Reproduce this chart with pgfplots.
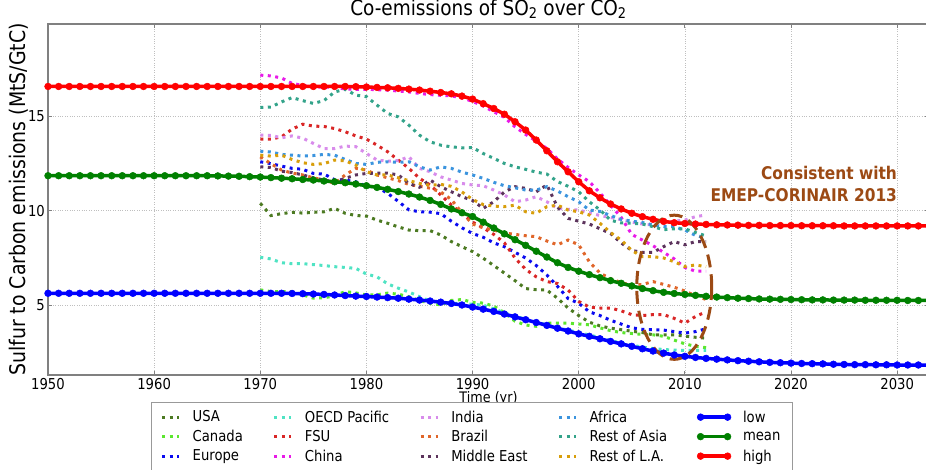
\documentclass[border=0pt]{standalone}
\usepackage{fontspec}
\setmainfont{DejaVu Sans}[FakeStretch=0.88]
\usepackage{pgfplots}
\usepackage{pgfplotstable}
\pgfplotsset{compat=1.18}

\definecolor{cUSA}{HTML}{4C7A22}
\definecolor{cCAN}{HTML}{5CE62E}
\definecolor{cEUR}{HTML}{0A0AF0}
\definecolor{cOECD}{HTML}{4FE3C3}
\definecolor{cFSU}{HTML}{D92626}
\definecolor{cCHN}{HTML}{E81AE8}
\definecolor{cIND}{HTML}{D88CEB}
\definecolor{cBRA}{HTML}{E0662A}
\definecolor{cMDE}{HTML}{5C335C}
\definecolor{cAFR}{HTML}{3B94DE}
\definecolor{cRAS}{HTML}{33A38A}
\definecolor{cRLA}{HTML}{D89E0B}
\definecolor{cLow}{HTML}{0000FF}
\definecolor{cMean}{HTML}{008000}
\definecolor{cHigh}{HTML}{FF0000}
\definecolor{annot}{HTML}{9C4A14}

% envelope curves, one point a year
\pgfplotstableread{
year low mean high
1950 5.63 11.86 16.59
1951 5.63 11.86 16.59
1952 5.63 11.86 16.59
1953 5.63 11.86 16.59
1954 5.63 11.86 16.59
1955 5.63 11.86 16.59
1956 5.63 11.86 16.59
1957 5.63 11.86 16.59
1958 5.63 11.86 16.59
1959 5.63 11.86 16.59
1960 5.63 11.86 16.59
1961 5.63 11.86 16.59
1962 5.63 11.86 16.59
1963 5.63 11.86 16.59
1964 5.63 11.86 16.59
1965 5.63 11.86 16.59
1966 5.63 11.85 16.59
1967 5.63 11.84 16.59
1968 5.63 11.83 16.59
1969 5.63 11.81 16.59
1970 5.63 11.79 16.59
1971 5.63 11.76 16.59
1972 5.63 11.73 16.59
1973 5.62 11.70 16.59
1974 5.61 11.66 16.59
1975 5.59 11.63 16.59
1976 5.57 11.58 16.59
1977 5.54 11.54 16.59
1978 5.51 11.49 16.59
1979 5.48 11.42 16.58
1980 5.46 11.33 16.56
1981 5.43 11.24 16.54
1982 5.40 11.14 16.52
1983 5.37 11.02 16.49
1984 5.32 10.89 16.45
1985 5.27 10.73 16.40
1986 5.22 10.55 16.34
1987 5.16 10.34 16.27
1988 5.09 10.10 16.20
1989 5.01 9.90 16.08
1990 4.90 9.70 15.92
1991 4.79 9.40 15.68
1992 4.67 9.09 15.42
1993 4.53 8.78 15.12
1994 4.38 8.47 14.72
1995 4.23 8.17 14.28
1996 4.08 7.86 13.75
1997 3.93 7.55 13.18
1998 3.78 7.25 12.60
1999 3.63 7.00 12.07
2000 3.48 6.80 11.54
2001 3.35 6.62 11.06
2002 3.22 6.46 10.69
2003 3.08 6.30 10.36
2004 2.95 6.16 10.10
2005 2.82 6.02 9.87
2006 2.69 5.88 9.69
2007 2.57 5.77 9.55
2008 2.46 5.68 9.44
2009 2.36 5.62 9.37
2010 2.29 5.57 9.33
2011 2.23 5.52 9.30
2012 2.18 5.47 9.28
2013 2.14 5.43 9.26
2014 2.10 5.40 9.25
2015 2.06 5.37 9.24
2016 2.03 5.35 9.23
2017 2.00 5.33 9.23
2018 1.97 5.32 9.22
2019 1.95 5.31 9.22
2020 1.93 5.30 9.22
2021 1.91 5.29 9.21
2022 1.90 5.28 9.21
2023 1.89 5.28 9.21
2024 1.87 5.27 9.21
2025 1.86 5.27 9.20
2026 1.85 5.27 9.20
2027 1.85 5.26 9.20
2028 1.84 5.26 9.20
2029 1.84 5.26 9.20
2030 1.83 5.26 9.20
2031 1.83 5.25 9.20
2032 1.83 5.25 9.20
2033 1.82 5.25 9.20
}\envelope

% regional ratios 1970-2012
\pgfplotstableread{
year USA CAN EUR OECD FSU CHN IND BRA MDE AFR RAS RLA
1970 10.40 5.81 12.60 7.54 13.80 17.19 14.01 12.86 12.33 13.16 15.48 12.95
1971 9.75 5.72 12.50 7.45 13.80 17.15 14.00 12.50 12.30 13.12 15.50 12.90
1972 9.85 5.72 12.37 7.25 13.92 17.04 13.87 12.16 12.10 12.99 15.77 12.95
1973 9.92 5.72 12.25 7.20 14.33 16.75 13.97 12.00 12.03 12.95 16.00 12.72
1974 9.88 5.55 12.20 7.20 14.59 16.65 13.85 11.90 11.90 12.90 15.84 12.55
1975 9.92 5.37 11.98 7.15 14.49 16.57 13.57 11.75 11.75 12.93 15.69 12.46
1976 9.95 5.39 11.95 7.10 14.47 16.55 13.30 11.63 11.63 12.99 15.84 12.50
1977 10.13 5.50 11.65 7.04 14.36 16.55 13.30 11.45 11.54 12.95 16.30 12.69
1978 9.87 5.72 11.63 7.00 14.19 16.45 13.43 11.90 11.72 12.72 16.44 12.65
1979 9.75 5.65 11.54 6.95 13.97 16.44 13.40 12.25 11.90 12.51 16.13 12.42
1980 9.72 5.54 11.30 6.65 13.80 16.44 13.04 12.16 11.98 12.46 16.05 12.07
1981 9.51 5.55 11.25 6.50 13.48 16.42 12.69 11.90 12.00 12.57 15.60 11.90
1982 9.34 5.64 10.93 6.13 13.13 16.39 12.63 11.75 12.00 12.60 15.16 11.90
1983 9.15 5.58 10.50 5.90 12.69 16.35 12.66 11.60 11.90 12.57 14.98 11.75
1984 8.98 5.45 10.05 5.70 12.25 16.30 12.86 11.40 11.45 12.60 14.54 11.60
1985 8.95 5.25 9.95 5.45 11.72 16.22 12.25 11.30 11.25 12.33 14.01 11.45
1986 8.95 5.10 9.93 5.22 11.37 16.16 12.07 11.20 11.63 12.16 13.66 11.35
1987 8.72 5.02 9.85 5.12 10.84 16.12 11.80 11.00 11.28 12.33 13.48 11.40
1988 8.37 5.25 9.45 5.10 10.31 16.09 11.63 10.60 11.01 12.25 13.39 11.30
1989 8.10 5.30 9.10 5.08 9.85 15.98 11.45 9.90 10.75 12.05 13.34 11.00
1990 7.84 5.15 8.80 5.05 9.40 15.80 11.37 9.30 10.55 11.90 13.35 10.60
1991 7.49 5.11 8.60 5.00 9.10 15.55 11.33 9.10 10.13 11.72 13.04 10.33
1992 7.10 4.95 8.30 4.80 8.75 15.25 11.10 8.98 10.48 11.51 12.78 10.25
1993 6.70 4.60 8.10 4.60 8.30 14.95 10.84 8.83 11.00 11.33 12.51 10.22
1994 6.30 4.15 7.80 4.42 7.50 14.45 10.48 8.75 11.28 11.22 12.33 10.30
1995 5.88 3.95 7.50 4.25 6.90 14.05 10.57 8.68 11.19 11.10 12.20 9.95
1996 5.82 3.88 7.10 4.10 6.50 13.70 10.75 8.63 11.01 11.10 12.05 9.87
1997 5.80 4.05 6.60 3.95 6.25 13.30 10.48 8.40 11.37 11.28 11.95 10.22
1998 5.37 4.05 6.00 3.80 6.15 12.75 10.13 8.20 10.20 11.05 11.55 10.30
1999 4.85 4.05 5.35 3.68 5.80 12.30 10.08 8.45 9.60 10.75 11.30 10.04
2000 4.45 4.00 5.10 3.55 5.20 11.90 10.04 8.20 9.45 10.48 11.01 9.95
2001 4.10 3.96 4.65 3.42 4.90 11.55 9.90 7.30 9.30 10.04 10.48 9.78
2002 3.90 3.80 4.45 3.28 4.85 10.95 9.75 6.70 9.05 9.97 10.05 9.34
2003 3.78 3.65 4.20 3.12 4.85 10.30 9.65 6.40 8.80 9.75 9.50 8.85
2004 3.70 3.55 4.00 3.00 4.70 9.65 9.53 6.20 8.30 9.55 9.36 8.45
2005 3.62 3.50 3.80 2.88 4.50 8.75 9.40 6.05 7.90 9.45 9.34 7.90
2006 3.55 3.45 3.72 2.78 4.45 8.45 9.30 6.10 7.80 9.38 9.30 7.57
2007 3.43 3.43 3.70 2.70 4.50 8.15 9.25 6.25 7.80 9.25 9.16 7.57
2008 3.43 3.35 3.68 2.65 4.50 7.80 9.35 6.10 8.10 9.16 9.00 7.50
2009 3.43 3.15 3.60 2.62 4.30 7.45 9.45 5.95 8.37 9.16 9.05 7.30
2010 3.36 2.95 3.52 2.60 4.05 7.00 9.51 5.75 8.20 8.98 9.05 7.05
2011 3.30 2.82 3.60 2.60 4.40 6.80 9.69 5.50 8.37 8.70 8.85 7.13
2012 3.25 2.75 3.75 2.60 4.65 6.80 9.78 5.30 8.37 8.55 8.67 7.04
}\regions

\begin{document}
\begin{tikzpicture}
\begin{axis}[
    at={(0pt,0pt)}, anchor=south west,
    scale only axis, width=881pt, height=351pt,
    xmin=1950, xmax=2033, ymin=1.3, ymax=19.9,
    xtick={1950,1960,...,2030}, ytick={5,10,15},
    /pgf/number format/1000 sep={},
    /pgf/number format/assume math mode=true,
    tick label style={font=\fontsize{15}{18}\selectfont},
    xticklabel style={inner sep=0pt, anchor=north, yshift=-3pt},
    yticklabel style={inner sep=0pt, anchor=east, xshift=-3pt},
    axis line style={gray, line width=1.2pt},
    tick style={gray, line width=0.8pt},
    tick align=inside, major tick length=4pt,
    grid=major, grid style={dotted, gray!50, line width=0.7pt},
    title={Co-emissions of SO\textsubscript{2} over CO\textsubscript{2}},
    title style={font=\fontsize{21}{23}\selectfont, at={(0.5,1)}, anchor=base, inner sep=0pt, yshift=3pt},
    xlabel={Time (yr)},
    every axis x label/.style={at={(axis description cs:0.5,-0.066)}, anchor=center, inner sep=0pt, font=\fontsize{14.5}{16}\selectfont},
    ylabel={Sulfur to Carbon emissions (MtS/GtC)},
    every axis y label/.style={at={(axis description cs:-0.0329,0.5)}, rotate=90, anchor=center, inner sep=0pt, font=\fontsize{21.5}{24}\selectfont},
    regional/.style={line width=3pt, dash pattern=on 3pt off 4.5pt},
    envelope/.style={line width=3.5pt, mark=*, mark size=3.4pt, mark options={solid, line width=0.5pt},
        legend image code/.code={\draw[##1] plot coordinates {(0cm,0cm) (0.95cm,0cm)};}},
    legend columns=3, transpose legend,
    legend style={at={(0.4813,-0.0769)}, anchor=north, draw=gray!80, line width=0.8pt,
        font=\fontsize{15}{17}\selectfont, cells={anchor=west},
        nodes={inner xsep=3pt, inner ysep=3.3pt},
        /tikz/every odd column/.append style={column sep=9pt},
        /tikz/every even column/.append style={column sep=27pt},
        inner xsep=9pt, inner ysep=5pt, row sep=0pt},
]
\addplot[cUSA, regional] table[x=year, y=USA] {\regions}; \addlegendentry{USA}
\addplot[cCAN, regional] table[x=year, y=CAN] {\regions}; \addlegendentry{Canada}
\addplot[cEUR, regional] table[x=year, y=EUR] {\regions}; \addlegendentry{Europe}
\addplot[cOECD, regional] table[x=year, y=OECD] {\regions}; \addlegendentry{OECD Pacific}
\addplot[cFSU, regional] table[x=year, y=FSU] {\regions}; \addlegendentry{FSU}
\addplot[cCHN, regional] table[x=year, y=CHN] {\regions}; \addlegendentry{China}
\addplot[cIND, regional] table[x=year, y=IND] {\regions}; \addlegendentry{India}
\addplot[cBRA, regional] table[x=year, y=BRA] {\regions}; \addlegendentry{Brazil}
\addplot[cMDE, regional] table[x=year, y=MDE] {\regions}; \addlegendentry{Middle East}
\addplot[cAFR, regional] table[x=year, y=AFR] {\regions}; \addlegendentry{Africa}
\addplot[cRAS, regional] table[x=year, y=RAS] {\regions}; \addlegendentry{Rest of Asia}
\addplot[cRLA, regional] table[x=year, y=RLA] {\regions}; \addlegendentry{Rest of L.A.}
\addplot[cLow, envelope] table[x=year, y=low] {\envelope}; \addlegendentry{low}
\addplot[cMean, envelope] table[x=year, y=mean] {\envelope}; \addlegendentry{mean}
\addplot[cHigh, envelope] table[x=year, y=high] {\envelope}; \addlegendentry{high}

\draw[annot, line width=3pt, dash pattern=on 13pt off 7pt]
    (axis cs:2009,5.95) ellipse [x radius=3.53, y radius=3.82];
\node[annot, anchor=east, align=right, inner sep=0pt,
    font=\fontsize{17.5}{22}\selectfont\bfseries]
    at (axis cs:2030,11.42) {Consistent with\\EMEP-CORINAIR 2013};
\end{axis}
\pgfresetboundingbox
\path[use as bounding box] (-48pt,-94pt) rectangle (878pt,375pt);
\end{tikzpicture}
\end{document}
